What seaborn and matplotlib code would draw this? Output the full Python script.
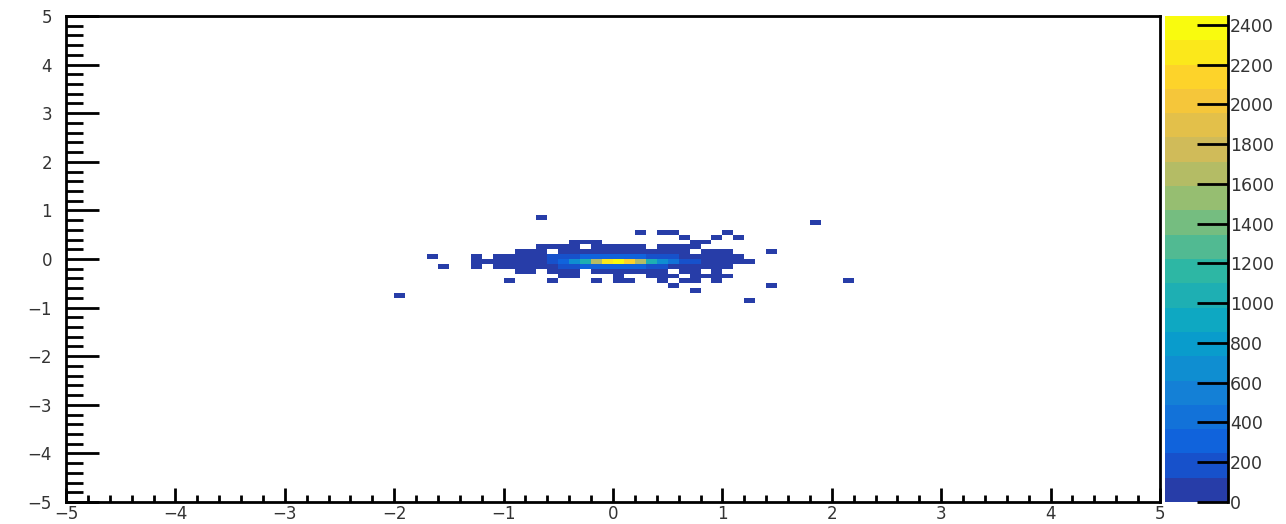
import numpy as np
import pandas as pd
import matplotlib
matplotlib.use("Agg")
import matplotlib.pyplot as plt
from matplotlib.colors import LinearSegmentedColormap, ListedColormap
from matplotlib.ticker import MultipleLocator
import seaborn as sns

# ---- binning of the 2-D histogram -------------------------------------------
X_RANGE = (-5.0, 5.0)
Y_RANGE = (-5.0, 5.0)
N_BINS = 100

# Sparse / low-count cells, counts in tens. Rows run from y-bin 58 (top) down
# to y-bin 41, columns cover x-bins 30..72; spaces only group columns by ten.
TAIL_TOP_ROW = 58
TAIL_FIRST_COL = 30
TAIL_ROWS = [
    ".......... ...2...... .......... .......... ...",
    ".......... .......... .......... ........2. ...",
    ".......... .......... .......... .......... ...",
    ".......... .......... ..2.22.... 2......... ...",
    ".......... .......... ......2..2 .2........ ...",
    ".......... ......222. .......22. .......... ...",
    ".......... ...3333.33 333.3333.. .......... ...",
    ".......... .455.66666 6666665.43 2...2..... ...",
    "...2...3.3 5666666666 6666666554 43........ ...",
    ".......... .......... .......... .......... ...",
    "....2..3.4 5556666666 6666665543 3......... ...",
    ".......... .33.454.55 55555.44.3 .......... ...",
    ".......... .....22... 2..222.222 2......... ...",
    ".......... 2...2...2. 22..2.22.2 .......... .2.",
    ".......... .......... .....2.... ....2..... ...",
    ".......... .......... .......2.. .......... ...",
    "2......... .......... .......... .......... ...",
    ".......... .......... .......... ..2....... ...",
]

# Central row (y-bin 49) counts, x-bins 37..62
CORE_ROW = 49
CORE_FIRST_COL = 37
CORE_COUNTS = [20, 20, 30, 40, 60, 80, 110, 180, 330, 700, 1100, 1700,
               2300, 2420, 2150, 1650, 1050, 650, 380, 220, 130, 90, 60,
               40, 30, 20]

# Rows just above (y-bin 50) and below (y-bin 48) the central row, x-bins 42..57
SIDE_FIRST_COL = 42
ROW_ABOVE = 50
ABOVE_COUNTS = [80, 100, 130, 180, 230, 270, 300, 320, 320, 300, 270, 220,
                170, 130, 100, 80]
ROW_BELOW = 48
BELOW_COUNTS = [70, 90, 120, 170, 220, 260, 290, 310, 310, 290, 250, 200,
                160, 120, 90, 70]

# Colour scale
Z_MAX = 2445
Z_TICKS = list(range(0, 2401, 200))
N_LEVELS = 20

# ROOT "bird" palette stops
BIRD_R = [0.2082, 0.0592, 0.0780, 0.0232, 0.1802, 0.5301, 0.8186, 0.9956, 0.9764]
BIRD_G = [0.1664, 0.3599, 0.5041, 0.6419, 0.7178, 0.7492, 0.7328, 0.7862, 0.9832]
BIRD_B = [0.5293, 0.8684, 0.8385, 0.7914, 0.6425, 0.4662, 0.3499, 0.1968, 0.0539]

# ---- assemble the per-cell table --------------------------------------------
edges_x = np.linspace(X_RANGE[0], X_RANGE[1], N_BINS + 1)
edges_y = np.linspace(Y_RANGE[0], Y_RANGE[1], N_BINS + 1)
centers_x = 0.5 * (edges_x[:-1] + edges_x[1:])
centers_y = 0.5 * (edges_y[:-1] + edges_y[1:])

cells = {}
for r, row in enumerate(TAIL_ROWS):
    j = TAIL_TOP_ROW - r
    for c, ch in enumerate("".join(row.split())):
        if ch.isdigit():
            cells[(TAIL_FIRST_COL + c, j)] = int(ch) * 10
for k, v in enumerate(CORE_COUNTS):
    cells[(CORE_FIRST_COL + k, CORE_ROW)] = v
for k, v in enumerate(ABOVE_COUNTS):
    cells[(SIDE_FIRST_COL + k, ROW_ABOVE)] = v
for k, v in enumerate(BELOW_COUNTS):
    cells[(SIDE_FIRST_COL + k, ROW_BELOW)] = v

df = pd.DataFrame(
    [(centers_x[i], centers_y[j], n) for (i, j), n in cells.items()],
    columns=["x", "y", "count"],
)

# ---- colour map: bird palette quantised into contour levels -----------------
# each level takes the palette colour at the top of its slice, as ROOT does
stops = np.linspace(0, 1, len(BIRD_R))
bird = LinearSegmentedColormap.from_list(
    "bird", list(zip(stops, zip(BIRD_R, BIRD_G, BIRD_B))))
level_pos = (np.arange(N_LEVELS) + 0.99) / N_LEVELS
bird_levels = ListedColormap(bird(np.clip(level_pos, 0, 1)))

# ---- figure -----------------------------------------------------------------
W, H = 1286, 524
fig = plt.figure(figsize=(W / 100, H / 100), dpi=100)
plt.rcParams["font.family"] = ["DejaVu Sans"]

ax = fig.add_axes([66 / W, 22 / H, (1160 - 66) / W, 486 / H])
cax = fig.add_axes([1165 / W, 22 / H, (1228 - 1165) / W, 486 / H])

sns.histplot(
    data=df, x="x", y="y", weights="count",
    bins=N_BINS, binrange=(X_RANGE, Y_RANGE),
    cmap=bird_levels, vmin=0, vmax=Z_MAX,
    cbar=True, cbar_ax=cax, cbar_kws={"ticks": Z_TICKS},
    ax=ax,
)

ax.set_xlim(*X_RANGE)
ax.set_ylim(*Y_RANGE)
ax.set_xlabel("")
ax.set_ylabel("")
ax.set_xticks(range(-5, 6))
ax.set_yticks(range(-5, 6))
ax.xaxis.set_minor_locator(MultipleLocator(0.2))
ax.yaxis.set_minor_locator(MultipleLocator(0.2))
ax.grid(False)

label_color = "#333333"
ax.tick_params(axis="both", which="both", direction="in", color="black",
               top=False, right=False, labelcolor=label_color, labelsize=12)
ax.tick_params(axis="y", which="major", length=24, width=2, pad=10)
ax.tick_params(axis="y", which="minor", length=12, width=2)
ax.tick_params(axis="x", which="major", length=10, width=2, pad=2.5)
ax.tick_params(axis="x", which="minor", length=5, width=2)
for sp in ax.spines.values():
    sp.set_visible(True)
    sp.set_linewidth(2)
    sp.set_color("black")

# colour bar: axis line on the right, ticks pointing into the bar
cb = ax.collections[0].colorbar
cb.outline.set_visible(False)
cax.tick_params(axis="y", which="major", direction="in", length=22, width=2,
                pad=1.5, labelsize=12.5, labelcolor=label_color,
                left=False, right=True, labelright=True, labelleft=False)
cax.minorticks_off()
cax.axvline(1.0, color="black", lw=2, clip_on=False)

fig.savefig("out.png", dpi=100)
